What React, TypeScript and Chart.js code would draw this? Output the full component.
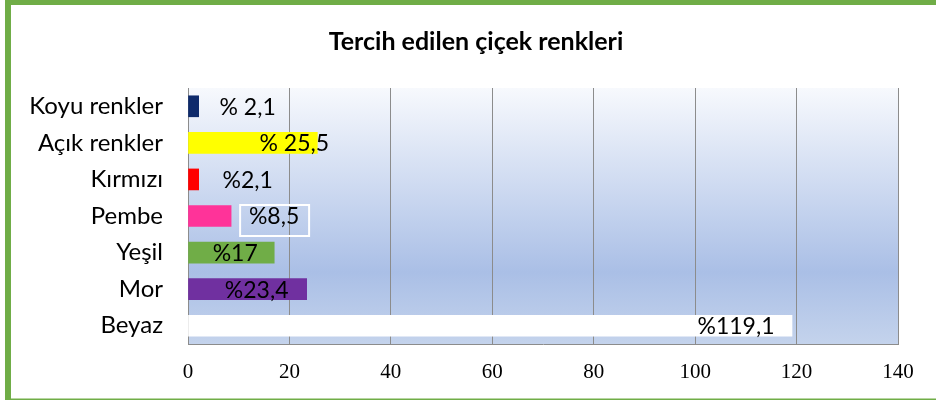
import React, { useEffect, useRef } from "react";
import { Chart, registerables } from "chart.js";

Chart.register(...registerables);

const categories = ["Koyu renkler", "Açık renkler", "Kırmızı", "Pembe", "Yeşil", "Mor", "Beyaz"];
const values = [2.1, 25.5, 2.1, 8.5, 17, 23.4, 119.1];
const valueLabels = ["% 2,1", "% 25,5", "%2,1", "%8,5", "%17", "%23,4", "%119,1"];
const barColors = ["#0E2A6B", "#FFFF00", "#FF0000", "#FF3399", "#70AD47", "#7030A0", "#FFFFFF"];
const xTicks = [0, 20, 40, 60, 80, 100, 120, 140];
const title = "Tercih edilen çiçek renkleri";

const GREEN = "#70AD47";
const GRID = "#8C8C8C";

// label placement (pixel offset of label centre from bar end) and which label is boxed
const labelOffsets = [49, -23, 49, 43, -39, -50, -56];
const boxedLabel = 3;

const framePlugin = {
  id: "frame",
  beforeDraw(chart: any) {
    const { ctx, width, height, chartArea } = chart;
    ctx.save();
    ctx.fillStyle = "#FFFFFF";
    ctx.fillRect(0, 0, width, height);
    ctx.fillStyle = GREEN;
    ctx.fillRect(5, 0, width - 5, 5);
    ctx.fillRect(5, 0, 6, height);
    ctx.fillRect(5, height - 1.5, width - 5, 1.5);
    const g = ctx.createLinearGradient(0, chartArea.top, 0, chartArea.bottom);
    g.addColorStop(0, "#F7F9FD");
    g.addColorStop(0.72, "#AABFE6");
    g.addColorStop(1, "#C4D3EC");
    ctx.fillStyle = g;
    ctx.fillRect(chartArea.left, chartArea.top, chartArea.right - chartArea.left, chartArea.bottom - chartArea.top);
    ctx.restore();
  },
};

const labelPlugin = {
  id: "valueLabels",
  afterDatasetsDraw(chart: any) {
    const { ctx } = chart;
    const meta = chart.getDatasetMeta(0);
    ctx.save();
    ctx.font = "23px Lato";
    ctx.textAlign = "center";
    ctx.textBaseline = "middle";
    meta.data.forEach((bar: any, i: number) => {
      const cx = bar.x + labelOffsets[i];
      const cy = bar.y;
      if (i === boxedLabel) {
        ctx.strokeStyle = "#FFFFFF";
        ctx.lineWidth = 2;
        ctx.strokeRect(cx - 34, cy - 11, 69, 31);
      }
      ctx.fillStyle = "#000000";
      ctx.fillText(valueLabels[i], cx, cy + 1);
    });
    ctx.restore();
  },
};

export default function App() {
  const ref = useRef<HTMLCanvasElement | null>(null);
  useEffect(() => {
    if (!ref.current) return;
    const chart = new Chart(ref.current, {
      type: "bar",
      data: {
        labels: categories,
        datasets: [
          {
            data: values,
            backgroundColor: barColors,
            borderWidth: 0,
            barThickness: 21,
          },
        ],
      },
      plugins: [framePlugin, labelPlugin],
      options: {
        indexAxis: "y",
        responsive: false,
        animation: false,
        layout: { padding: { left: 16, right: 0, top: 0, bottom: 0 } },
        plugins: {
          legend: { display: false },
          tooltip: { enabled: false },
          title: {
            display: true,
            text: title,
            color: "#000000",
            font: { family: "Lato", size: 25, weight: "bold" },
            padding: { top: 27, bottom: 31 },
          },
        },
        scales: {
          x: {
            min: 0,
            max: 140,
            afterBuildTicks(scale: any) {
              scale.ticks = xTicks.map((v) => ({ value: v }));
            },
            afterFit(scale: any) {
              scale.height = 56;
            },
            grid: { color: GRID, drawTicks: false, lineWidth: 1 },
            border: { display: true, color: GRID, width: 1 },
            ticks: {
              color: "#000000",
              font: { family: "Liberation Serif", size: 21 },
              padding: 16,
              maxRotation: 0,
            },
          },
          y: {
            afterFit(scale: any) {
              scale.width = 172;
            },
            grid: { display: false, drawTicks: false },
            border: { display: true, color: GRID, width: 1 },
            ticks: {
              color: "#000000",
              font: { family: "Lato", size: 24 },
              padding: 25,
            },
          },
          yRight: {
            type: "category",
            position: "right",
            display: true,
            afterFit(scale: any) {
              scale.width = 38;
            },
            grid: { display: false, drawTicks: false },
            border: { display: false },
            ticks: { display: false },
          },
        },
      },
    });
    return () => chart.destroy();
  }, []);
  return (
    <div style={{ position: "absolute", left: 0, top: 0, width: 936, height: 400 }}>
      <canvas ref={ref} width={936} height={400} />
    </div>
  );
}
